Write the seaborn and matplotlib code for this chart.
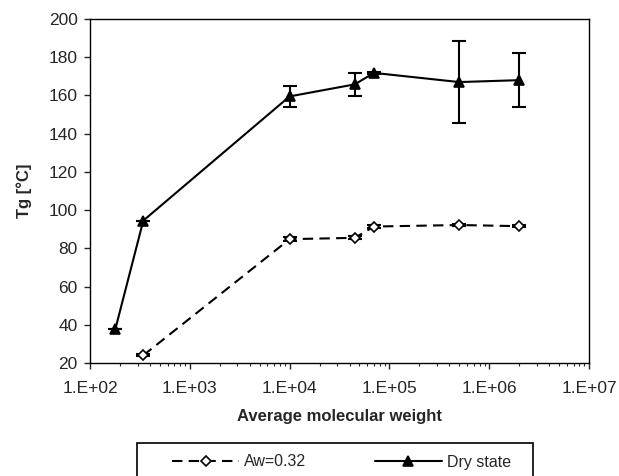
import pandas as pd
import matplotlib
matplotlib.use('Agg')
import matplotlib.pyplot as plt
import matplotlib.ticker as mticker
from matplotlib.patches import Rectangle
import seaborn as sns
import numpy as np

# molecular weight vs Tg
mw_dry = [180, 342, 10000, 45000, 70000, 500000, 2000000]
tg_dry = [38, 94.5, 159.5, 165.8, 171.8, 167, 168]
err_dry = [0, 0, 5.5, 6, 0.5, 21.5, 14.2]

mw_aw = [342, 10000, 45000, 70000, 500000, 2000000]
tg_aw = [24, 84.8, 85.5, 91.4, 92.2, 91.6]
err_aw = [0.5, 1.2, 0.8, 0.8, 0.5, 0.5]

df = pd.concat([
    pd.DataFrame({'mw': mw_aw, 'tg': tg_aw, 'err': err_aw, 'series': 'Aw=0.32'}),
    pd.DataFrame({'mw': mw_dry, 'tg': tg_dry, 'err': err_dry, 'series': 'Dry state'}),
])

sns.set_style("ticks")
plt.rcParams['font.family'] = ['Liberation Sans', 'DejaVu Sans']

fig = plt.figure(figsize=(6.19, 4.76), dpi=100)
ax = fig.add_axes([90 / 619, 1 - 363 / 476, (589 - 90) / 619, (363 - 19) / 476])

styles = {
    'Aw=0.32': dict(ls=(0, (5, 3)), marker='D', mfc='white', ms=5),
    'Dry state': dict(ls='-', marker='^', mfc='black', ms=7),
}
for name, sub in df.groupby('series'):
    st = styles[name]
    ax.errorbar(sub['mw'], sub['tg'], yerr=sub['err'], fmt='none', ecolor='black',
                elinewidth=1.5, capsize=5, capthick=1.5, zorder=2)
    sns.lineplot(x='mw', y='tg', data=sub, ax=ax, color='black', linewidth=1.5,
                 linestyle=st['ls'], marker=st['marker'], markersize=st['ms'],
                 markerfacecolor=st['mfc'], markeredgecolor='black', markeredgewidth=1.2,
                 label=name, zorder=3, errorbar=None)

ax.set_xscale('log')
ax.set_xlim(1e2, 1e7)
ax.set_ylim(20, 200)
ax.set_yticks(np.arange(20, 201, 20))
ax.xaxis.set_major_formatter(mticker.FuncFormatter(lambda v, p: '1.E+%02d' % round(np.log10(v))))
ax.xaxis.set_minor_locator(mticker.LogLocator(base=10, subs=np.arange(2, 10), numticks=20))
ax.tick_params(axis='both', which='major', direction='out', length=4, width=1, labelsize=12.5)
ax.tick_params(axis='x', which='major', pad=9)
ax.tick_params(axis='y', which='major', pad=5)
ax.tick_params(axis='x', which='minor', direction='out', length=2.5, width=0.8)
for s in ax.spines.values():
    s.set_visible(True)
    s.set_linewidth(1.0)
    s.set_color('black')

ax.set_xlabel('Average molecular weight', fontsize=12, fontweight='bold', labelpad=9)
ax.set_ylabel('Tg [\u00b0C]', fontsize=12, fontweight='bold', labelpad=12)

leg = ax.legend(loc='center left', bbox_to_anchor=(172 / 619, 1 - 462 / 476),
                bbox_transform=fig.transFigure, ncol=2, frameon=False,
                fontsize=11.5, handlelength=4.2, handletextpad=0.3,
                columnspacing=4.3, borderpad=0, borderaxespad=0)

# legend frame (bottom edge runs off the figure, as in the source)
fig.patches.append(Rectangle((137 / 619, -0.05), (533 - 137) / 619, 0.05 + 1 - 443 / 476,
                             transform=fig.transFigure, fill=False, edgecolor='black',
                             linewidth=1.2))

fig.savefig('out.png', dpi=100)
